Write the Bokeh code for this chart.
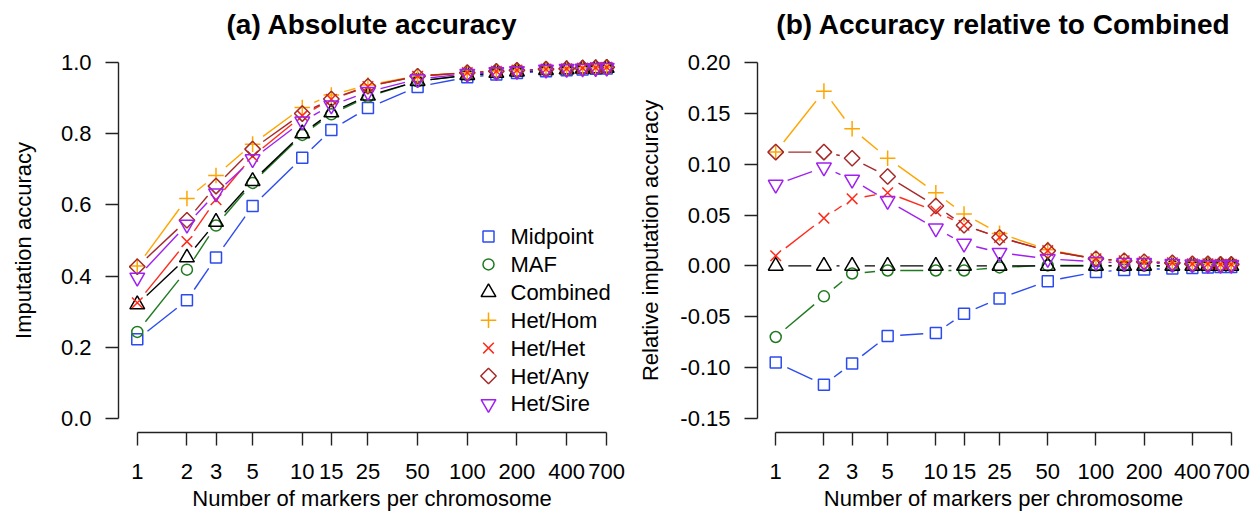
import numpy as np
from bokeh.plotting import figure
from bokeh.models import Range1d, FixedTicker, NumeralTickFormatter
from bokeh.core.properties import value
from bokeh.layouts import row
from bokeh.embed import file_html
from bokeh.resources import INLINE

# ---------------- data ----------------
markers_per_chrom = [1, 2, 3, 5, 10, 15, 25, 50, 100, 150, 200, 300, 400, 500, 600, 700]
x_ticks = [1, 2, 3, 5, 10, 15, 25, 50, 100, 200, 400, 700]
methods = ["Midpoint", "MAF", "Combined", "Het/Hom", "Het/Het", "Het/Any", "Het/Sire"]

abs_midpoint = [0.222, 0.332, 0.452, 0.597, 0.733, 0.811, 0.873, 0.932, 0.959, 0.967, 0.971, 0.976, 0.979, 0.981, 0.983, 0.984]
abs_maf      = [0.243, 0.418, 0.542, 0.662, 0.797, 0.855, 0.904, 0.948, 0.965, 0.971, 0.975, 0.979, 0.981, 0.983, 0.984, 0.985]
abs_combined = [0.320, 0.452, 0.552, 0.667, 0.801, 0.860, 0.907, 0.948, 0.965, 0.971, 0.975, 0.979, 0.981, 0.983, 0.984, 0.985]
abs_het_hom  = [0.428, 0.618, 0.683, 0.771, 0.874, 0.909, 0.937, 0.963, 0.972, 0.976, 0.979, 0.982, 0.983, 0.985, 0.986, 0.987]
abs_het_het  = [0.325, 0.497, 0.615, 0.737, 0.851, 0.897, 0.933, 0.962, 0.972, 0.976, 0.979, 0.982, 0.983, 0.985, 0.986, 0.987]
abs_het_any  = [0.426, 0.557, 0.653, 0.757, 0.857, 0.898, 0.934, 0.962, 0.972, 0.976, 0.979, 0.982, 0.983, 0.985, 0.986, 0.987]
abs_het_sire = [0.396, 0.545, 0.633, 0.729, 0.835, 0.880, 0.918, 0.954, 0.969, 0.974, 0.977, 0.981, 0.983, 0.984, 0.985, 0.986]

rel_midpoint = [-0.095, -0.117, -0.096, -0.069, -0.066, -0.047, -0.032, -0.015, -0.006, -0.004, -0.0035, -0.0026, -0.002, -0.0015, -0.0012, -0.001]
rel_maf      = [-0.070, -0.030, -0.0075, -0.0045, -0.0045, -0.0045, -0.0015, 0.0005, 0.0003, 0.0002, 0.0002, 0.0001, 0.0001, 0.0001, 0.0, 0.0]
rel_combined = [0.0, 0.0, 0.0, 0.0, 0.0, 0.0, 0.0, 0.0, 0.0, 0.0, 0.0, 0.0, 0.0, 0.0, 0.0, 0.0]
rel_het_hom  = [0.112, 0.172, 0.135, 0.106, 0.072, 0.051, 0.032, 0.016, 0.007, 0.005, 0.004, 0.003, 0.002, 0.002, 0.0015, 0.0015]
rel_het_het  = [0.010, 0.047, 0.066, 0.072, 0.054, 0.040, 0.028, 0.015, 0.007, 0.005, 0.004, 0.003, 0.002, 0.002, 0.0015, 0.0015]
rel_het_any  = [0.112, 0.112, 0.106, 0.088, 0.059, 0.040, 0.028, 0.015, 0.007, 0.005, 0.004, 0.003, 0.002, 0.002, 0.0015, 0.0015]
rel_het_sire = [0.080, 0.097, 0.085, 0.064, 0.037, 0.022, 0.013, 0.007, 0.004, 0.003, 0.003, 0.002, 0.0015, 0.001, 0.001, 0.001]

abs_series = [abs_midpoint, abs_maf, abs_combined, abs_het_hom, abs_het_het, abs_het_any, abs_het_sire]
rel_series = [rel_midpoint, rel_maf, rel_combined, rel_het_hom, rel_het_het, rel_het_any, rel_het_sire]

# ---------------- styles ----------------
colors = ["#2b4bee", "#1f7a1f", "#000000", "#ffa500", "#ff2a1a", "#a52a2a", "#a020f0"]
marker_specs = [
    dict(marker="square", size=11, angle=0.0),
    dict(marker="circle", size=11, angle=0.0),
    dict(marker="triangle", size=14.8, angle=0.0),
    dict(marker="cross", size=15.6, angle=0.0),
    dict(marker="x", size=15, angle=0.0),
    dict(marker="square", size=11, angle=np.pi / 4),
    dict(marker="inverted_triangle", size=14.8, angle=0.0),
]

FONT = "Liberation Sans"
FS = "22px"
FRAME_W, FRAME_H = 507, 384
lx0, lx1 = 0.0, np.log10(700)
pad = 0.04 * (lx1 - lx0)
X_RANGE = (10 ** (lx0 - pad), 10 ** (lx1 + pad))


def yrange(lo, hi):
    d = 0.04 * (hi - lo)
    return (lo - d, hi + d)


def gapped_segments(xs, ys, ppd_x, ppu_y, gap=13.0):
    x0s, y0s, x1s, y1s = [], [], [], []
    for i in range(len(xs) - 1):
        ax, bx = np.log10(xs[i]), np.log10(xs[i + 1])
        dxp = (bx - ax) * ppd_x
        dyp = (ys[i + 1] - ys[i]) * ppu_y
        d = np.hypot(dxp, dyp)
        if d <= 2 * gap:
            continue
        f = gap / d
        x0s.append(10 ** (ax + (bx - ax) * f))
        y0s.append(ys[i] + (ys[i + 1] - ys[i]) * f)
        x1s.append(10 ** (bx - (bx - ax) * f))
        y1s.append(ys[i + 1] - (ys[i + 1] - ys[i]) * f)
    return x0s, y0s, x1s, y1s


def make_panel(title, series, ylo, yhi, yticks, yfmt, ylabel, width, mleft, mright,
               ylabel_standoff, legend=False):
    yr = yrange(ylo, yhi)
    p = figure(width=width, height=515, x_axis_type="log",
               x_range=Range1d(*X_RANGE), y_range=Range1d(*yr),
               output_backend="svg", toolbar_location=None,
               min_border_left=mleft, min_border_right=mright,
               min_border_top=48, min_border_bottom=83, title=title)
    p.title.text_font = FONT
    p.title.text_font_size = "28px"
    p.title.text_font_style = "bold"
    p.title.align = "center"
    p.title.vertical_align = "top"
    p.title.standoff = 14
    p.title.text_color = "black"
    p.xgrid.visible = False
    p.ygrid.visible = False
    p.outline_line_color = None
    p.background_fill_color = "white"
    p.border_fill_color = "white"

    p.xaxis.ticker = FixedTicker(ticks=x_ticks)
    p.xaxis.formatter = NumeralTickFormatter(format="0")
    p.xaxis.bounds = (1, 700)
    p.xaxis.axis_label = "Number of markers per chromosome"
    p.yaxis.ticker = FixedTicker(ticks=yticks)
    p.yaxis.formatter = NumeralTickFormatter(format=yfmt)
    p.yaxis.bounds = (ylo, yhi)
    p.yaxis.axis_label = ylabel
    for ax in (p.xaxis, p.yaxis):
        ax.major_tick_out = 13
        ax.major_tick_in = 0
        ax.minor_tick_line_color = None
        ax.axis_line_width = 1.4
        ax.axis_line_color = "#222222"
        ax.major_tick_line_width = 1.4
        ax.major_tick_line_color = "#222222"
        ax.major_label_text_font = FONT
        ax.major_label_text_font_size = FS
        ax.major_label_text_color = "black"
        ax.axis_label_text_font = FONT
        ax.axis_label_text_font_size = FS
        ax.axis_label_text_font_style = "normal"
        ax.axis_label_text_color = "black"
    p.xaxis.major_label_standoff = 18
    p.xaxis.axis_label_standoff = 4
    p.yaxis.major_label_standoff = 14
    p.yaxis.axis_label_standoff = ylabel_standoff

    ppd_x = FRAME_W / (np.log10(X_RANGE[1]) - np.log10(X_RANGE[0]))
    ppu_y = FRAME_H / (yr[1] - yr[0])
    for name, ys, col, ms in zip(methods, series, colors, marker_specs):
        x0, y0, x1, y1 = gapped_segments(markers_per_chrom, ys, ppd_x, ppu_y)
        p.segment(x0, y0, x1, y1, line_color=col, line_width=1.4)
        p.scatter(markers_per_chrom, ys, marker=ms["marker"], size=ms["size"],
                  angle=ms["angle"], line_color=col, fill_color=None, line_width=1.5)

    if legend:
        # legend key placed by pixel offsets inside the frame (like R's legend())
        key_dx, text_dx = 370.0, 392.0          # px from frame left
        row_top, row_step = 196.0, 27.9          # px above frame bottom for first row
        lxk = 10 ** (np.log10(X_RANGE[0]) + key_dx / ppd_x)
        lxt = 10 ** (np.log10(X_RANGE[0]) + text_dx / ppd_x)
        for i, (name, col, ms) in enumerate(zip(methods, colors, marker_specs)):
            ly = yr[0] + (row_top - i * row_step) / ppu_y
            p.scatter([lxk], [ly], marker=ms["marker"], size=ms["size"], angle=ms["angle"],
                      line_color=col, fill_color=None, line_width=1.5)
            p.text([lxt], [ly], text=[name], text_font=value(FONT), text_font_size=FS,
                   text_baseline="middle", text_align="left", text_color="black")
    return p


p1 = make_panel("(a) Absolute accuracy", abs_series, 0.0, 1.0,
                [0.0, 0.2, 0.4, 0.6, 0.8, 1.0], "0.0", "Imputation accuracy",
                635, 118, 10, 22, legend=True)
p2 = make_panel("(b) Accuracy relative to Combined", rel_series, -0.15, 0.20,
                [-0.15, -0.10, -0.05, 0.0, 0.05, 0.10, 0.15, 0.20], "0.00",
                "Relative imputation accuracy", 623, 107, 9, 14)

layout = row(p1, p2)
open("out.html", "w").write(file_html(layout, INLINE))
